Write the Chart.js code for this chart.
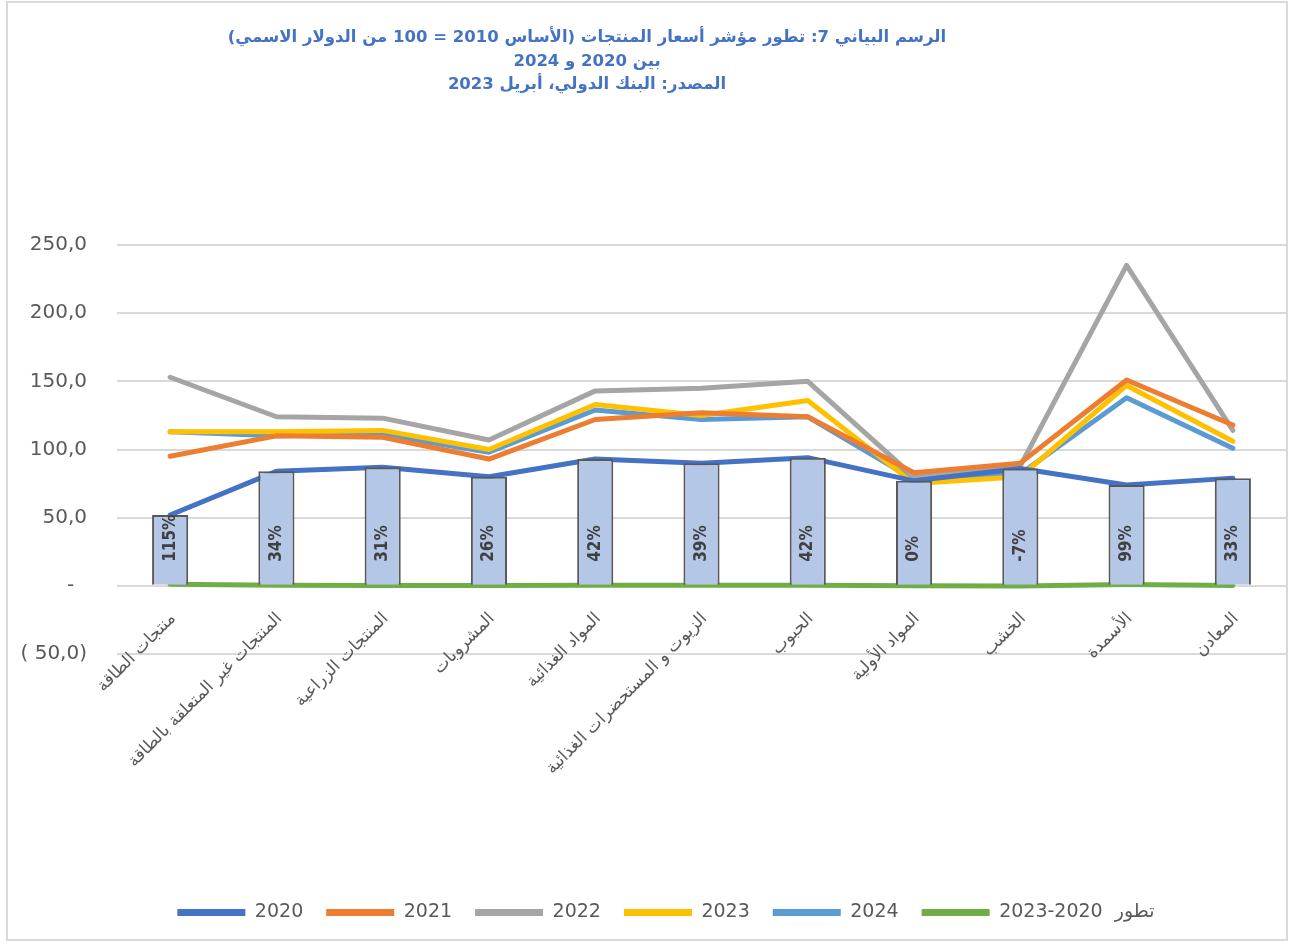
<!DOCTYPE html>
<html lang="ar">
<head>
<meta charset="UTF-8">
<title>تطور مؤشر أسعار المنتجات</title>
<script src="https://cdn.jsdelivr.net/npm/chart.js@4.4.2/dist/chart.umd.min.js"></script>
<style>
  body { margin: 0; background: #fff; }
  .frame {
    position: absolute; left: 6px; top: 1px;
    width: 1278px; height: 936px;
    border: 2px solid #d9d9d9;
  }
  canvas { display: block; }
  .title {
    position: absolute; left: 0; top: 25px; width: 1174px;
    text-align: center; direction: rtl;
    color: #4472c4;
    font: bold 16.5px/23.5px "DejaVu Sans", sans-serif;
  }
</style>
</head>
<body>
<div class="frame">
  <canvas id="chart" width="1278" height="936"></canvas>
</div>
<div class="title">
  <div>الرسم البياني 7: تطور مؤشر أسعار المنتجات (الأساس 2010 = 100 من الدولار الاسمي)</div>
  <div>بين 2020 و 2024</div>
  <div>المصدر: البنك الدولي، أبريل 2023</div>
</div>
<script>
const categories = [
  "منتجات الطاقة",
  "المنتجات غير المتعلقة بالطاقة",
  "المنتجات الزراعية",
  "المشروبات",
  "المواد الغذائية",
  "الزيوت و المستحضرات الغذائية",
  "الحبوب",
  "المواد الأولية",
  "الخشب",
  "الأسمدة",
  "المعادن",
];

const values2020 = [52, 84, 87, 80, 93, 90, 94, 77, 86, 74, 79];
const values2021 = [95, 110, 109, 93, 122, 127, 124, 83, 90, 151, 118];
const values2022 = [153, 124, 123, 107, 143, 145, 150, 80, 88, 235, 114];
const values2023 = [113, 113, 114, 100, 133, 125, 136, 75, 80, 147, 106];
const values2024 = [113, 110, 111, 98, 129, 122, 124, 78, 82, 138, 101];
// change 2020-2023, as a ratio (1.15 = 115%)
const change = [1.15, 0.34, 0.31, 0.26, 0.42, 0.39, 0.42, 0, -0.07, 0.99, 0.33];

const yTicks = { min: -50, max: 250, step: 50 };
const changeLabel = "2023-2020  تطور";

const lineSeries = [
  ["2020", values2020, "#4472c4"],
  ["2021", values2021, "#ed7d31"],
  ["2022", values2022, "#a5a5a5"],
  ["2023", values2023, "#ffc000"],
  ["2024", values2024, "#5b9bd5"],
  [changeLabel, change, "#70ad47"],
];

const fmtNum = (v) => v.toFixed(1).replace(".", ",");
const fmtPct = (v) => Math.round(v * 100) + "%";

// rotated percentage labels inside the columns
const barLabels = {
  id: "barLabels",
  afterDatasetsDraw(chart) {
    const { ctx } = chart;
    const meta = chart.getDatasetMeta(0);
    const base = chart.scales.y.getPixelForValue(0);
    ctx.save();
    ctx.font = 'bold 17px "Liberation Sans Narrow", "DejaVu Sans Condensed", sans-serif';
    ctx.fillStyle = "#404040";
    ctx.textAlign = "left";
    ctx.textBaseline = "middle";
    meta.data.forEach((bar, i) => {
      ctx.save();
      ctx.translate(bar.x, base - 24);
      ctx.rotate(-Math.PI / 2);
      ctx.fillText(fmtPct(change[i]), 0, 0);
      ctx.restore();
    });
    ctx.restore();
  },
};

// the legend sits a little right of the page centre in the original
const shiftLegend = {
  id: "shiftLegend",
  afterLayout(chart) {
    chart.legend.left += 38;
  },
};

const noSidePadding = (scale) => {
  scale.paddingLeft = 0;
  scale.paddingRight = 0;
};

const datasets = [
  {
    type: "bar",
    label: "bars",
    data: values2020,
    xAxisID: "x",
    backgroundColor: "#b4c7e7",
    borderColor: "#595959",
    borderWidth: 2,
    barPercentage: 0.34,
    categoryPercentage: 1,
    order: 0,
  },
  ...lineSeries.map(([label, data, color]) => ({
    type: "line",
    label,
    data,
    xAxisID: "x",
    borderColor: color,
    backgroundColor: color,
    borderWidth: 5,
    borderCapStyle: "round",
    borderJoinStyle: "round",
    pointRadius: 0,
    tension: 0,
    order: 1,
  })),
];

new Chart(document.getElementById("chart"), {
  type: "line",
  data: { labels: categories, datasets },
  options: {
    responsive: false,
    animation: false,
    layout: { padding: { top: 242, left: 0, right: 0, bottom: 7 } },
    scales: {
      x: {
        // category labels hang from the zero line, as in the original
        position: { y: 0 },
        offset: true,
        grid: { display: false, drawTicks: false },
        border: { display: false },
        ticks: {
          autoSkip: false,
          minRotation: 45,
          maxRotation: 45,
          padding: 23,
          labelOffset: 3,
          color: "#595959",
          font: { family: '"DejaVu Sans", sans-serif', size: 17 },
        },
        afterFit: noSidePadding,
      },
      // empty axis that only keeps the legend down at the bottom
      gap: {
        type: "linear",
        position: "bottom",
        grid: { display: false, drawTicks: false },
        border: { display: false },
        ticks: { display: false },
        afterFit(scale) {
          noSidePadding(scale);
          scale.height = 226;
        },
      },
      y: {
        min: yTicks.min,
        max: yTicks.max,
        grid: { color: "#d9d9d9", lineWidth: 2, drawTicks: false },
        border: { display: false },
        ticks: {
          stepSize: yTicks.step,
          padding: 30,
          color: "#595959",
          font: { family: '"DejaVu Sans", sans-serif', size: 20 },
          callback(v) {
            if (v === 0) return "-\u2007";
            if (v < 0) return "( " + fmtNum(-v) + ")";
            return fmtNum(v);
          },
        },
        afterFit(scale) {
          scale.width = 109;
        },
      },
    },
    plugins: {
      legend: {
        position: "bottom",
        labels: {
          usePointStyle: true,
          pointStyle: "line",
          pointStyleWidth: 68,
          padding: 23,
          color: "#595959",
          font: { family: '"DejaVu Sans", sans-serif', size: 19 },
          filter: (item) => item.datasetIndex !== 0,
          generateLabels(chart) {
            return Chart.defaults.plugins.legend.labels
              .generateLabels(chart)
              .map((item) => ({ ...item, lineWidth: 7 }));
          },
        },
      },
      tooltip: { enabled: false },
    },
  },
  plugins: [barLabels, shiftLegend],
});
</script>
</body>
</html>
